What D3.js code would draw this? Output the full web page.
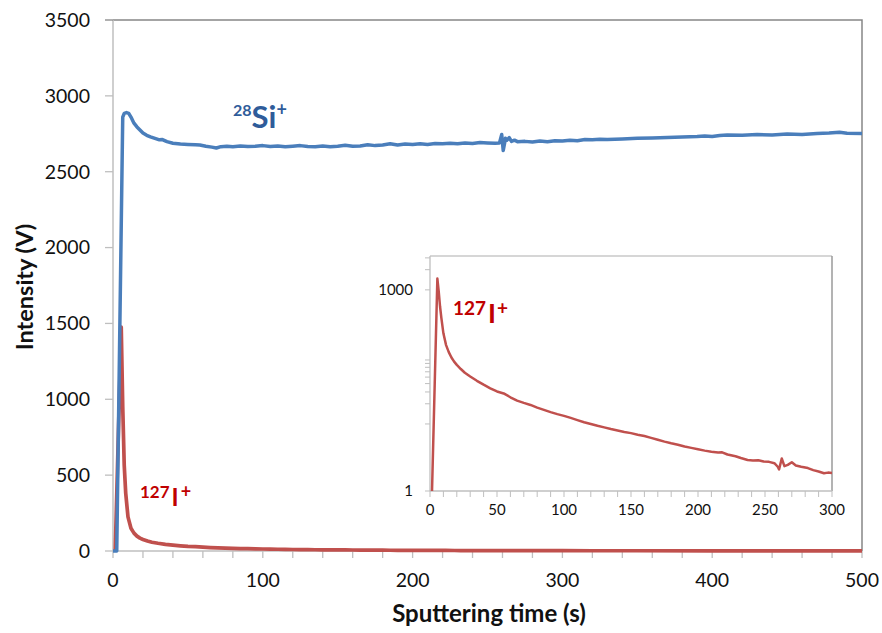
<!DOCTYPE html>
<html>
<head>
<meta charset="utf-8">
<script src="https://cdn.jsdelivr.net/npm/d3@7"></script>
<style>
  html, body { margin: 0; padding: 0; background: #ffffff; }
  svg { display: block; font-family: Lato, "Open Sans", sans-serif; }
</style>
</head>
<body>
<svg id="chart" width="882" height="633"></svg>
<script>
// Sputtering time (s) and 28Si+ intensity (V)
const siTime = [0, 2.5, 6.5, 7.5, 9, 10.5, 12, 14, 16, 18, 20, 22.5, 25, 28, 31, 33, 36, 40, 45, 50, 55, 58, 62, 66, 69, 72, 76, 80, 85, 90, 95, 100, 105, 110, 115, 120, 125, 130, 135, 140, 145, 150, 155, 160, 165, 170, 175, 180, 185, 190, 195, 200, 205, 210, 215, 220, 225, 230, 235, 240, 245, 250, 255, 258, 259.5, 260.5, 262, 263, 264.5, 266, 268, 270, 275, 280, 285, 290, 295, 300, 305, 310, 315, 320, 325, 330, 340, 350, 360, 370, 380, 390, 395, 400, 405, 410, 420, 430, 440, 450, 460, 470, 478, 485, 490, 500];
const siValue = [0, 0, 2860, 2885, 2890, 2885, 2860, 2820, 2795, 2775, 2755, 2740, 2730, 2720, 2710, 2712, 2698, 2688, 2682, 2680, 2678, 2676, 2668, 2662, 2656, 2665, 2668, 2664, 2670, 2666, 2668, 2672, 2666, 2670, 2664, 2668, 2672, 2666, 2665, 2670, 2664, 2668, 2674, 2668, 2670, 2678, 2672, 2676, 2684, 2676, 2682, 2680, 2684, 2680, 2686, 2684, 2688, 2684, 2690, 2686, 2692, 2690, 2688, 2690, 2745, 2640, 2720, 2708, 2725, 2700, 2708, 2698, 2700, 2696, 2702, 2698, 2704, 2702, 2708, 2704, 2712, 2710, 2714, 2712, 2716, 2720, 2722, 2726, 2728, 2732, 2736, 2732, 2738, 2742, 2740, 2745, 2742, 2748, 2745, 2752, 2755, 2760, 2754, 2752];

// Sputtering time (s) and 127I+ intensity (V)
const iTime = [1.5, 5.5, 6.5, 7.5, 8.5, 10, 12, 14, 16, 18, 20, 23, 26, 30, 35, 40, 45, 50, 55, 60, 65, 70, 75, 80, 85, 90, 95, 100, 105, 110, 115, 120, 125, 130, 135, 140, 145, 150, 155, 160, 165, 170, 175, 180, 185, 190, 195, 200, 205, 210, 215, 218, 222, 228, 232, 237, 241, 245, 249, 253, 257, 259.5, 260.5, 262.5, 264.5, 267, 270, 273, 277, 282, 286, 290, 294, 297, 300, 320, 350, 400, 450, 500];
const iValue = [1, 1475, 950, 565, 380, 225, 150, 118, 98, 85, 76, 66, 58, 51, 44, 38.5, 34, 30.5, 28.5, 25, 22.3, 20.6, 19.2, 17.5, 16.2, 15, 14, 13.2, 12.3, 11.4, 10.6, 10, 9.4, 8.9, 8.4, 8.0, 7.6, 7.3, 6.9, 6.6, 6.2, 5.8, 5.45, 5.15, 4.9, 4.6, 4.4, 4.2, 4.0, 3.85, 3.75, 3.78, 3.5, 3.3, 3.1, 2.9, 2.85, 2.88, 2.75, 2.72, 2.6, 2.3, 2.1, 3.05, 2.35, 2.45, 2.68, 2.4, 2.3, 2.2, 2.05, 1.95, 1.84, 1.88, 1.86, 1.7, 1.55, 1.35, 1.2, 1.1];

// Axis ticks
const mainYTicks = [0, 500, 1000, 1500, 2000, 2500, 3000, 3500];
const mainXLabels = [0, 100, 200, 300, 400, 500];
const mainXTicks = d3.range(0, 501, 20);
const insetXLabels = [0, 50, 100, 150, 200, 250, 300];
const insetXTicks = d3.range(0, 301, 10);
const insetYLabels = [1, 1000];
const insetYMinor = [10, 20, 30, 40, 50, 60, 70, 80, 90, 2000, 3000];

const blue = "#4a7ebb", red = "#c0504d";
const axisGrey = "#bfbfbf", frameGrey = "#868686";
const textCol = "#111111";

const svg = d3.select("#chart");

// ---------- main plot ----------
const M = { left: 113, right: 862, top: 20, bottom: 551 };
const x = d3.scaleLinear().domain([0, 500]).range([M.left, M.right]);
const y = d3.scaleLinear().domain([0, 3500]).range([M.bottom, M.top]);

const main = svg.append("g");

// plot frame: dark top / right edge
main.append("path")
  .attr("d", `M${M.left},${M.top}H${M.right}V${M.bottom}`)
  .attr("fill", "none").attr("stroke", frameGrey).attr("stroke-width", 1.5);

// y axis
main.append("line").attr("x1", M.left).attr("x2", M.left).attr("y1", M.top).attr("y2", M.bottom)
  .attr("stroke", axisGrey).attr("stroke-width", 1.5);
main.selectAll(".yt").data(mainYTicks).join("line")
  .attr("x1", M.left - 8).attr("x2", M.left).attr("y1", d => y(d)).attr("y2", d => y(d))
  .attr("stroke", d => d === 3500 ? frameGrey : axisGrey).attr("stroke-width", 1.3);
main.selectAll(".yl").data(mainYTicks).join("text")
  .attr("x", 90).attr("y", d => y(d)).attr("dy", "0.35em")
  .attr("text-anchor", "end").attr("font-size", 19.5).attr("fill", textCol)
  .text(d => d);

// x axis
main.append("line").attr("x1", M.left).attr("x2", M.right).attr("y1", M.bottom).attr("y2", M.bottom)
  .attr("stroke", axisGrey).attr("stroke-width", 1.5);
main.selectAll(".xt").data(mainXTicks).join("line")
  .attr("x1", d => x(d)).attr("x2", d => x(d)).attr("y1", M.bottom).attr("y2", M.bottom + 7)
  .attr("stroke", axisGrey).attr("stroke-width", 1.3);
main.selectAll(".xl").data(mainXLabels).join("text")
  .attr("x", d => x(d)).attr("y", 587)
  .attr("text-anchor", "middle").attr("font-size", 19.5).attr("fill", textCol)
  .text(d => d);

// axis titles
main.append("text").attr("transform", "translate(33,287) rotate(-90)")
  .attr("text-anchor", "middle").attr("font-size", 23.5).attr("font-weight", "bold").attr("fill", textCol)
  .text("Intensity (V)");
main.append("text").attr("x", 489).attr("y", 622)
  .attr("text-anchor", "middle").attr("font-size", 24).attr("font-weight", "bold").attr("fill", textCol)
  .text("Sputtering time (s)");

// series
const siData = siTime.map((t, i) => [t, siValue[i]]);
const iData = iTime.map((t, i) => [t, iValue[i]]);
const lineMain = d3.line().x(d => x(d[0])).y(d => y(d[1]));

main.append("path").datum(iData).attr("d", lineMain)
  .attr("fill", "none").attr("stroke", red).attr("stroke-width", 3.7).attr("stroke-linejoin", "round");
main.append("path").datum(siData).attr("d", lineMain)
  .attr("fill", "none").attr("stroke", blue).attr("stroke-width", 3.5).attr("stroke-linejoin", "round");

// series labels
const siLab = main.append("text").attr("fill", "#2f5c9a").attr("font-weight", "bold");
siLab.append("tspan").attr("x", 233).attr("y", 116).attr("font-size", 16).text("28");
siLab.append("tspan").attr("y", 128).attr("font-size", 31).text("Si");
siLab.append("tspan").attr("y", 116).attr("font-size", 18).text("+");

const iLab = main.append("text").attr("fill", "#c00000").attr("font-weight", "bold");
iLab.append("tspan").attr("x", 140).attr("y", 498).attr("font-size", 17).text("127");
iLab.append("tspan").attr("y", 506).attr("font-size", 24).attr("dx", 2).text("I");
iLab.append("tspan").attr("y", 498).attr("font-size", 18).attr("dx", 2).text("+");

// ---------- inset (log scale) ----------
const N = { left: 430, right: 832, top: 256, bottom: 491 };
const xi = d3.scaleLinear().domain([0, 300]).range([N.left, N.right]);
const yi = d3.scaleLog().domain([1, 3200]).range([N.bottom, N.top]);

const inset = svg.append("g");
inset.append("rect").attr("x", N.left).attr("y", N.top)
  .attr("width", N.right - N.left).attr("height", N.bottom - N.top).attr("fill", "#ffffff");
inset.append("line").attr("x1", N.left).attr("x2", N.right).attr("y1", N.top).attr("y2", N.top)
  .attr("stroke", "#c8c8c8").attr("stroke-width", 1.5);
inset.append("line").attr("x1", N.right).attr("x2", N.right).attr("y1", N.top).attr("y2", N.bottom)
  .attr("stroke", "#9a9a9a").attr("stroke-width", 1.5);

// inset y axis
inset.append("line").attr("x1", N.left).attr("x2", N.left).attr("y1", N.top).attr("y2", N.bottom)
  .attr("stroke", axisGrey).attr("stroke-width", 1.3);
inset.selectAll(".iyt").data(insetYLabels.concat(insetYMinor)).join("line")
  .attr("x1", N.left - 5).attr("x2", N.left).attr("y1", d => yi(d)).attr("y2", d => yi(d))
  .attr("stroke", axisGrey).attr("stroke-width", 1);
inset.selectAll(".iyl").data(insetYLabels).join("text")
  .attr("x", 413).attr("y", d => yi(d)).attr("dy", "0.35em")
  .attr("text-anchor", "end").attr("font-size", 15).attr("fill", textCol)
  .text(d => d);

// inset x axis
inset.append("line").attr("x1", N.left).attr("x2", N.right).attr("y1", N.bottom).attr("y2", N.bottom)
  .attr("stroke", axisGrey).attr("stroke-width", 1.3);
inset.selectAll(".ixt").data(insetXTicks).join("line")
  .attr("x1", d => xi(d)).attr("x2", d => xi(d)).attr("y1", N.bottom).attr("y2", N.bottom + 6)
  .attr("stroke", axisGrey).attr("stroke-width", 1);
inset.selectAll(".ixl").data(insetXLabels).join("text")
  .attr("x", d => xi(d)).attr("y", 515)
  .attr("text-anchor", "middle").attr("font-size", 15).attr("fill", textCol)
  .text(d => d);

const lineInset = d3.line().x(d => xi(d[0])).y(d => yi(d[1]));
inset.append("path").datum(iData.filter(d => d[0] <= 300)).attr("d", lineInset)
  .attr("fill", "none").attr("stroke", red).attr("stroke-width", 2.5).attr("stroke-linejoin", "round");

const iLab2 = inset.append("text").attr("fill", "#c00000").attr("font-weight", "bold");
iLab2.append("tspan").attr("x", 453).attr("y", 315).attr("font-size", 19).text("127");
iLab2.append("tspan").attr("y", 323).attr("font-size", 27).attr("dx", 2).text("I");
iLab2.append("tspan").attr("y", 315).attr("font-size", 19).attr("dx", 1).text("+");
</script>
</body>
</html>
